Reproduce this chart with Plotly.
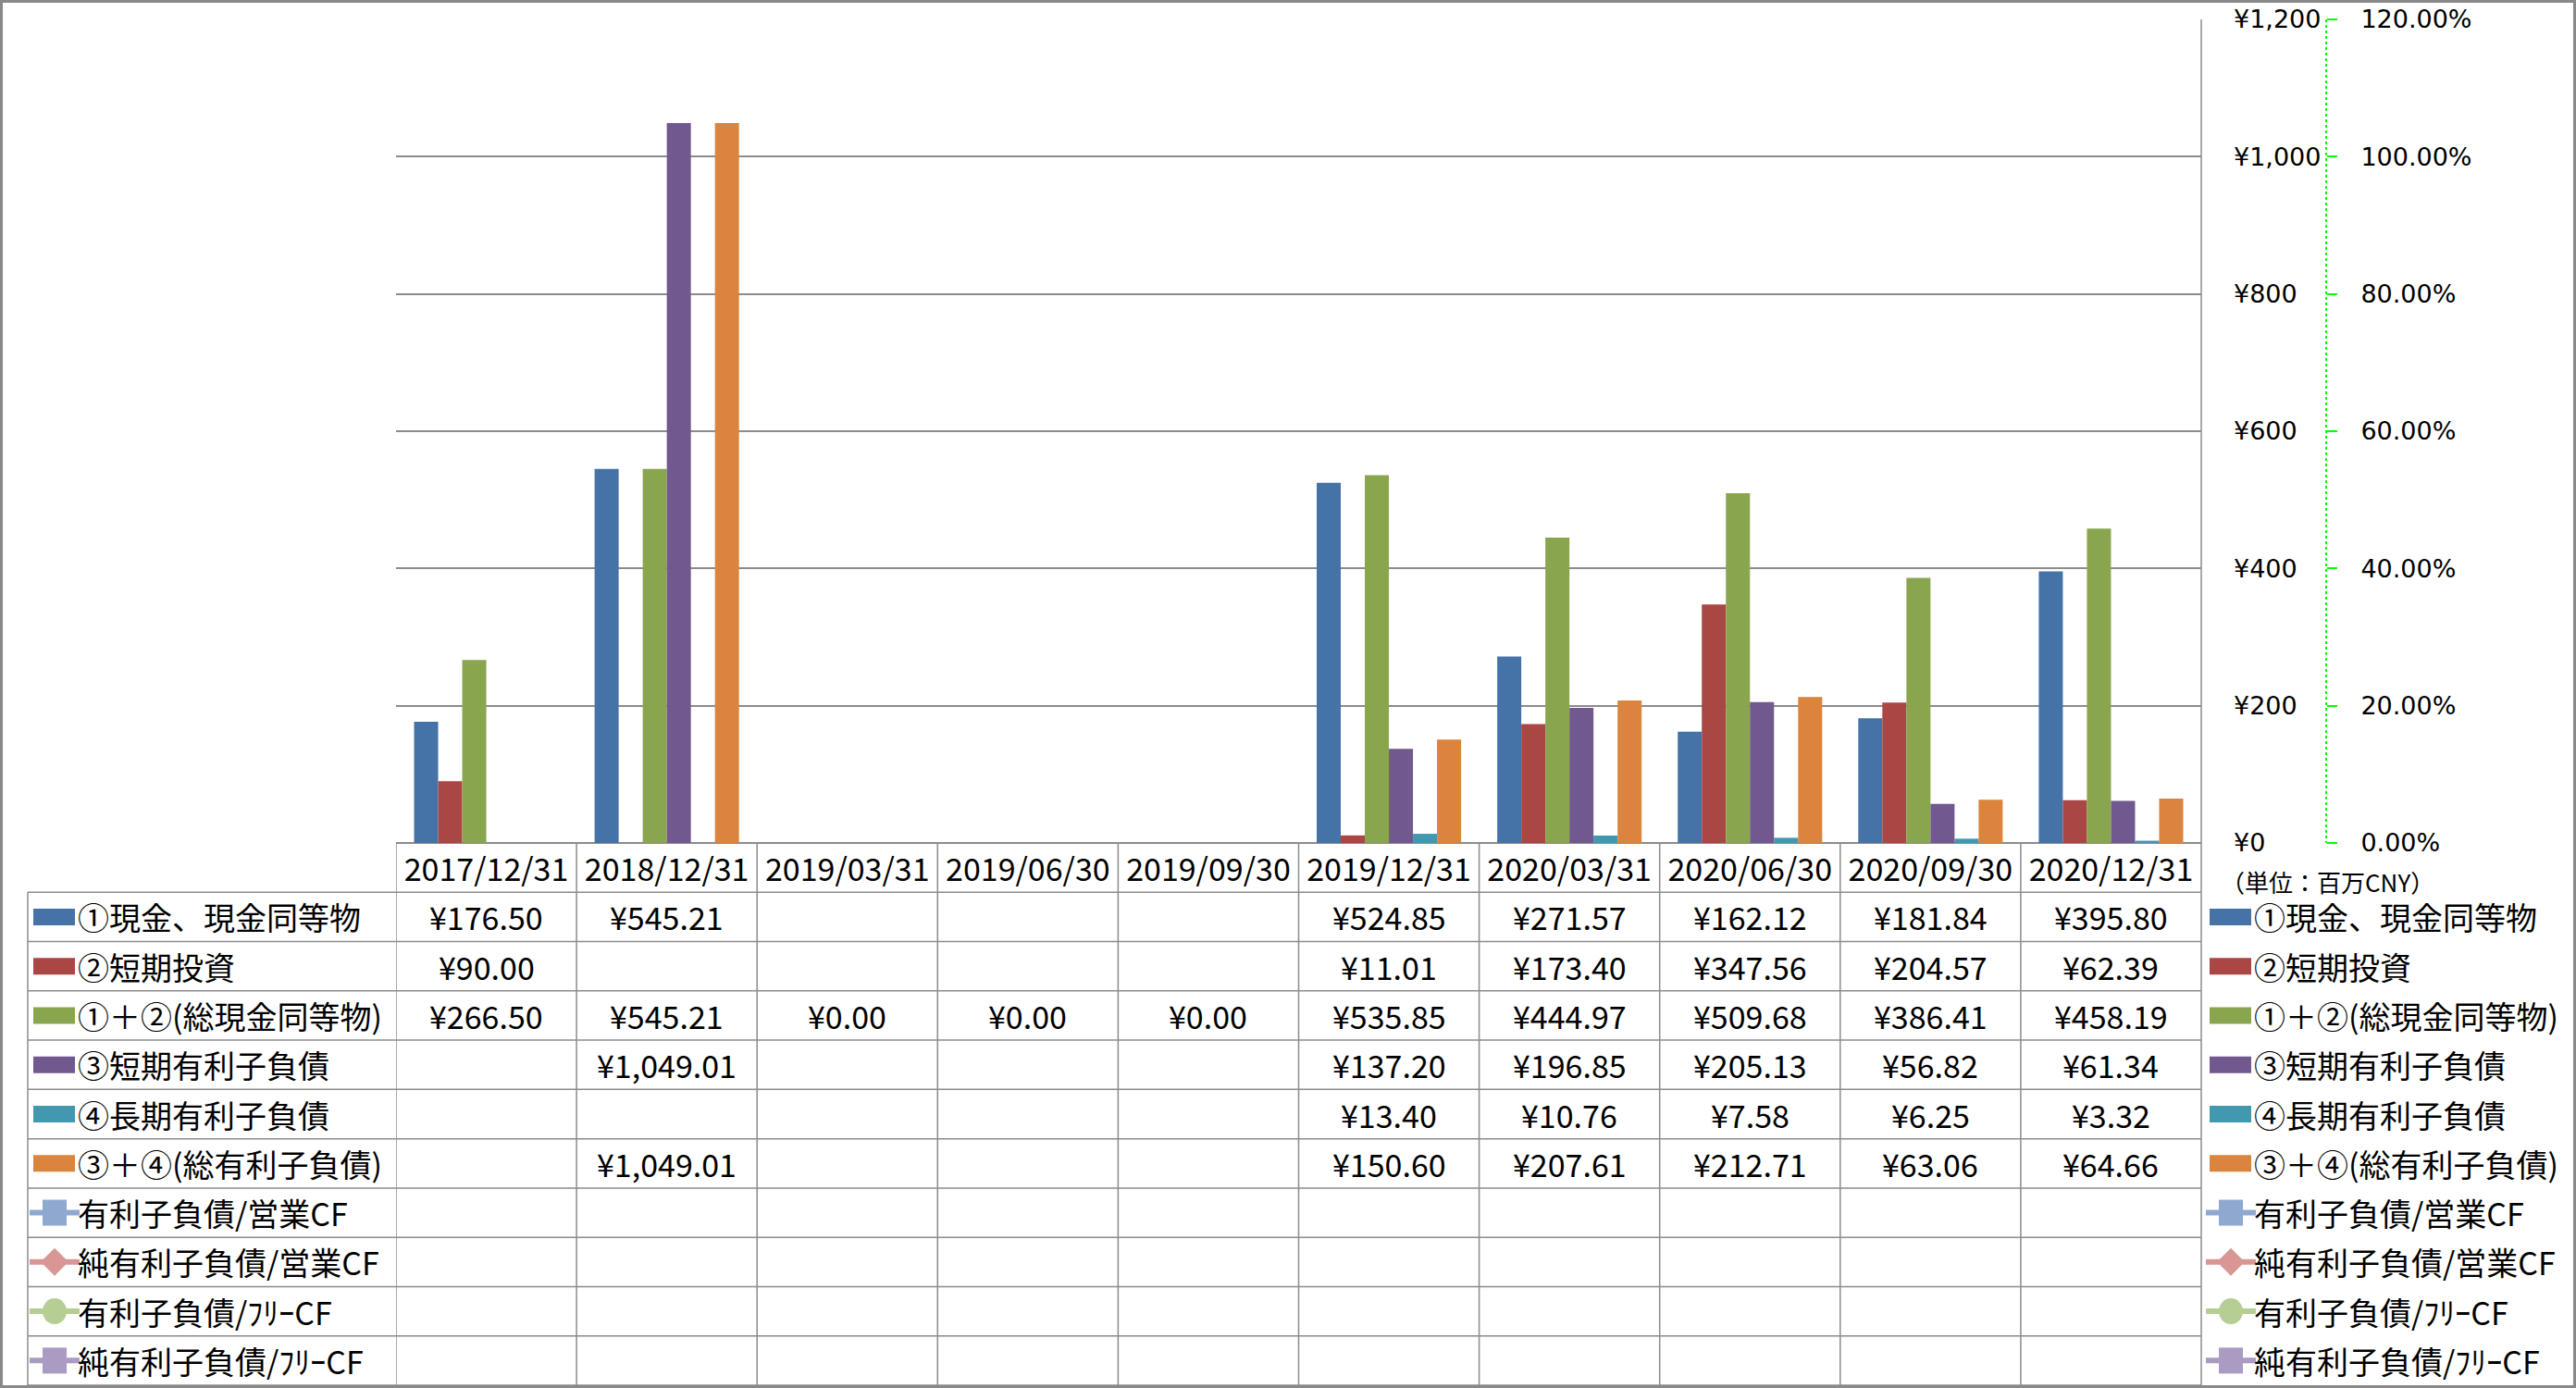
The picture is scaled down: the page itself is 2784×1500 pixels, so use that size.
import plotly.graph_objects as go

W, H = 2784, 1500
FONT = "Noto Sans CJK JP"
AXFONT = "DejaVu Sans"
GRID = "#8C8C8C"

dates = ["2017/12/31", "2018/12/31", "2019/03/31", "2019/06/30", "2019/09/30",
         "2019/12/31", "2020/03/31", "2020/06/30", "2020/09/30", "2020/12/31"]

cash = [176.50, 545.21, None, None, None, 524.85, 271.57, 162.12, 181.84, 395.80]
short_inv = [90.00, None, None, None, None, 11.01, 173.40, 347.56, 204.57, 62.39]
total_cash = [266.50, 545.21, 0.00, 0.00, 0.00, 535.85, 444.97, 509.68, 386.41, 458.19]
short_debt = [None, 1049.01, None, None, None, 137.20, 196.85, 205.13, 56.82, 61.34]
long_debt = [None, None, None, None, None, 13.40, 10.76, 7.58, 6.25, 3.32]
total_debt = [None, 1049.01, None, None, None, 150.60, 207.61, 212.71, 63.06, 64.66]

debt_ocf = [None, None, None, None, None, None, None, None, None, None]
net_debt_ocf = [None, None, None, None, None, None, None, None, None, None]
debt_fcf = [None, None, None, None, None, None, None, None, None, None]
net_debt_fcf = [None, None, None, None, None, None, None, None, None, None]

bar_names = ["①現金、現金同等物", "②短期投資", "①＋②(総現金同等物)",
             "③短期有利子負債", "④長期有利子負債", "③＋④(総有利子負債)"]
bar_values = [cash, short_inv, total_cash, short_debt, long_debt, total_debt]
bar_colors = ["#4572A7", "#AA4643", "#89A54E", "#71588F", "#4198AF", "#DB843D"]

line_names = ["有利子負債/営業CF", "純有利子負債/営業CF",
              "有利子負債/ﾌﾘｰCF", "純有利子負債/ﾌﾘｰCF"]
line_values = [debt_ocf, net_debt_ocf, debt_fcf, net_debt_fcf]
line_colors = ["#8EA8D0", "#D99694", "#B6CD93", "#A99BC1"]
line_symbols = ["square", "diamond", "circle", "square"]

yen_ticks = [0, 200, 400, 600, 800, 1000, 1200]
yen_text = ["¥0", "¥200", "¥400", "¥600", "¥800", "¥1,000", "¥1,200"]
pct_ticks = [0, 0.2, 0.4, 0.6, 0.8, 1.0, 1.2]
pct_text = ["0.00%", "20.00%", "40.00%", "60.00%", "80.00%", "100.00%", "120.00%"]

# pixel layout of the Excel-style chart + data table
PL, PR = 428, 2379          # plot area left/right
PT, PB = 21, 911            # plot area top/bottom (bottom = header top)
TL = 30                     # table key column left
ROW = (1497 - PB) / 11      # header + 10 rows
AX2 = 2514                  # secondary axis line


def px(x):
    return x / W


def py(y):
    return 1 - y / H


fig = go.Figure()
for name, vals, col in zip(bar_names, bar_values, bar_colors):
    fig.add_trace(go.Bar(x=dates, y=vals, name=name, marker=dict(color=col, line_width=0),
                         showlegend=False))
for name, vals, col, sym in zip(line_names, line_values, line_colors, line_symbols):
    fig.add_trace(go.Scatter(x=dates, y=vals, name=name, yaxis="y2", mode="lines+markers",
                             line=dict(color=col, width=5), marker=dict(symbol=sym, size=22, color=col),
                             showlegend=False))

shapes, annotations = [], []


def hline(y, x0, x1, w=1.5):
    shapes.append(dict(type="line", xref="paper", yref="paper", x0=px(x0), x1=px(x1),
                       y0=py(y), y1=py(y), line=dict(color=GRID, width=w)))


def vline(x, y0, y1, xref="paper", w=1.5):
    xx = px(x) if xref == "paper" else x
    shapes.append(dict(type="line", xref=xref, yref="paper", x0=xx, x1=xx,
                       y0=py(y0), y1=py(y1), line=dict(color=GRID, width=w)))


# table grid
for k in range(1, 12):
    hline(PB + k * ROW, TL, PR)
vline(TL, PB + ROW, PB + 11 * ROW)
for j in range(len(dates)):
    vline(j - 0.5, PB, PB + 11 * ROW, xref="x")
vline(PR, PT, PB + 11 * ROW)

# secondary axis dotted line
shapes.append(dict(type="line", xref="paper", yref="paper", x0=px(AX2), x1=px(AX2),
                   y0=py(PT), y1=py(PB), line=dict(color="#00FF00", width=2, dash="dot")))


def legend_key(i, x0, kind):
    yc = PB + (i + 1.5) * ROW
    if kind[0] == "bar":
        shapes.append(dict(type="rect", xref="paper", yref="paper", x0=px(x0), x1=px(x0 + 45),
                           y0=py(yc - 9), y1=py(yc + 9), line_width=0, fillcolor=kind[1]))
    else:
        col, sym = kind[1], kind[2]
        shapes.append(dict(type="line", xref="paper", yref="paper", x0=px(x0 - 4), x1=px(x0 + 50),
                           y0=py(yc), y1=py(yc), line=dict(color=col, width=6)))
        cx, r = x0 + 23, 13
        if sym == "diamond":
            path = (f"M {px(cx)},{py(yc - r - 2)} L {px(cx + r + 2)},{py(yc)} "
                    f"L {px(cx)},{py(yc + r + 2)} L {px(cx - r - 2)},{py(yc)} Z")
            shapes.append(dict(type="path", xref="paper", yref="paper", path=path,
                               line_width=0, fillcolor=col))
        else:
            shapes.append(dict(type="circle" if sym == "circle" else "rect",
                               xref="paper", yref="paper",
                               x0=px(cx - r), x1=px(cx + r), y0=py(yc - r - 1), y1=py(yc + r + 1),
                               line_width=0, fillcolor=col))


def legend_text(i, x, text):
    annotations.append(dict(text=text, xref="paper", yref="paper", x=px(x),
                            y=py(PB + (i + 1.5) * ROW), xanchor="left", yanchor="middle",
                            showarrow=False, font=dict(family=FONT, size=34, color="black")))


kinds = [("bar", c) for c in bar_colors] + [("line", c, s) for c, s in zip(line_colors, line_symbols)]
names = bar_names + line_names
for i, (nm, kd) in enumerate(zip(names, kinds)):
    legend_key(i, 36, kd)
    legend_text(i, 82, nm)
    legend_key(i, 2388, kd)
    legend_text(i, 2434, nm)

# table values
for i, vals in enumerate(bar_values + line_values):
    for d, v in zip(dates, vals):
        if v is None:
            continue
        annotations.append(dict(text=f"¥{v:,.2f}", xref="x", yref="paper", x=d,
                                y=py(PB + (i + 1.5) * ROW), xanchor="center", yanchor="middle",
                                showarrow=False, font=dict(family=FONT, size=34, color="black")))

annotations.append(dict(text="（単位：百万CNY）", xref="paper", yref="paper", x=px(2398),
                        y=py(952), xanchor="left", yanchor="middle", showarrow=False,
                        font=dict(family=FONT, size=26, color="black")))

# outer chart border
shapes.append(dict(type="rect", xref="paper", yref="paper", x0=px(1.5), x1=px(W - 1.5),
                   y0=py(1.5), y1=py(H - 1.5), line=dict(color="#898989", width=3)))

fig.update_layout(
    width=W, height=H, margin=dict(l=0, r=0, t=0, b=0, autoexpand=False),
    paper_bgcolor="white", plot_bgcolor="white",
    barmode="group", bargap=0.2, bargroupgap=0,
    xaxis=dict(domain=[px(PL), px(PR)], type="category", range=[-0.5, len(dates) - 0.5],
               showgrid=False, showline=False,
               ticks="", ticklabelstandoff=6, zeroline=False, automargin=False,
               tickfont=dict(family=FONT, size=34, color="black")),
    yaxis=dict(domain=[py(PB), py(PT)], range=[0, 1200], side="right",
               tickvals=yen_ticks, ticktext=yen_text, ticks="", ticklabelstandoff=34,
               showgrid=True, gridcolor=GRID, gridwidth=1.5, automargin=False,
               zeroline=True, zerolinecolor=GRID, zerolinewidth=1.5, showline=False,
               tickfont=dict(family=AXFONT, size=27, color="black")),
    yaxis2=dict(overlaying="y", side="right", anchor="free", position=px(AX2),
                range=[0, 1.2], tickvals=pct_ticks, ticktext=pct_text,
                ticks="outside", ticklen=11, tickcolor="#00FF00", tickwidth=1.5,
                ticklabelstandoff=20, showgrid=False, zeroline=False, showline=False,
                automargin=False, tickfont=dict(family=AXFONT, size=27, color="black")),
    shapes=shapes, annotations=annotations, showlegend=False,
)

fig.write_html("out.html", config={"displayModeBar": False},
               post_script="document.body.style.margin='0';"
               "document.body.style.overflow='hidden';")
